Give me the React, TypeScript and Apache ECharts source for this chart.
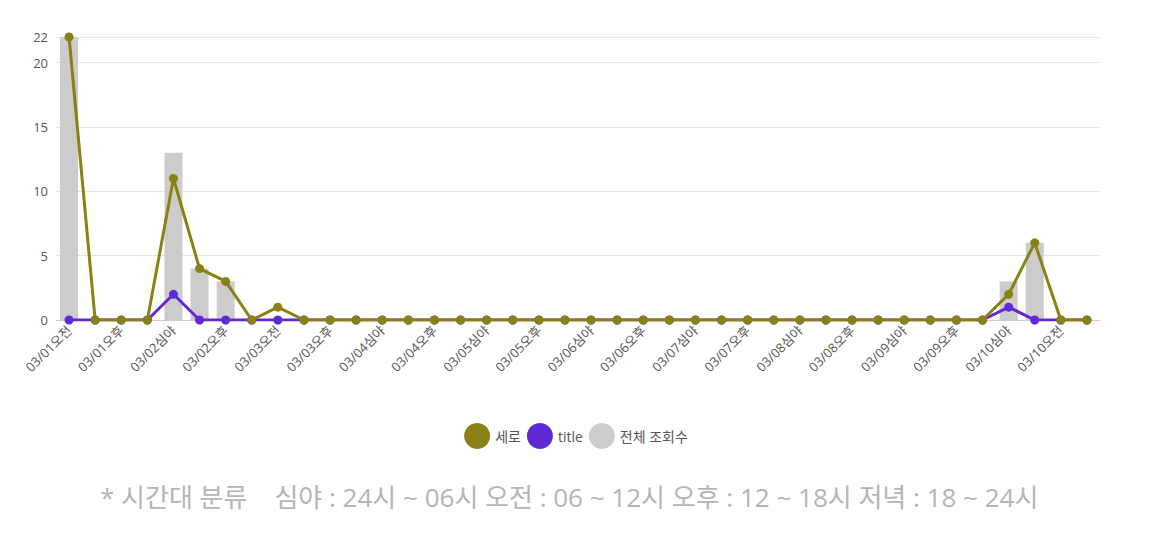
import React, { useEffect, useRef } from "react";
import * as echarts from "echarts";

const categories: string[] = [
	"03/01오전", "03/01저녁", "03/01오후", "03/01저녁",
	"03/02심야", "03/02오전", "03/02오후", "03/02저녁",
	"03/03오전", "03/03저녁", "03/03오후", "03/03저녁",
	"03/04심야", "03/04오전", "03/04오후", "03/04저녁",
	"03/05심야", "03/05오전", "03/05오후", "03/05저녁",
	"03/06심야", "03/06오전", "03/06오후", "03/06저녁",
	"03/07심야", "03/07오전", "03/07오후", "03/07저녁",
	"03/08심야", "03/08오전", "03/08오후", "03/08저녁",
	"03/09심야", "03/09오전", "03/09오후", "03/09저녁",
	"03/10심야", "03/10새벽", "03/10오전", "03/10오후",
];

const seroValues: number[] = [
	22, 0, 0, 0, 11, 4, 3, 0, 1, 0, 0, 0, 0, 0, 0, 0, 0, 0, 0, 0,
	0, 0, 0, 0, 0, 0, 0, 0, 0, 0, 0, 0, 0, 0, 0, 0, 2, 6, 0, 0,
];

const titleValues: number[] = [
	0, 0, 0, 0, 2, 0, 0, 0, 0, 0, 0, 0, 0, 0, 0, 0, 0, 0, 0, 0,
	0, 0, 0, 0, 0, 0, 0, 0, 0, 0, 0, 0, 0, 0, 0, 0, 1, 0, 0, 0,
];

const totalViews: number[] = [
	22, 0, 0, 0, 13, 4, 3, 0, 0, 0, 0, 0, 0, 0, 0, 0, 0, 0, 0, 0,
	0, 0, 0, 0, 0, 0, 0, 0, 0, 0, 0, 0, 0, 0, 0, 0, 3, 6, 0, 0,
];

const noteText = "* 시간대 분류    심야 : 24시 ~ 06시 오전 : 06 ~ 12시 오후 : 12 ~ 18시 저녁 : 18 ~ 24시";

const FONT = "'Open Sans', 'Noto Sans CJK KR', sans-serif";

const App: React.FC = () => {
	const chartRef = useRef<HTMLDivElement>(null);

	useEffect(() => {
		if (!chartRef.current) return;
		const chart = echarts.init(chartRef.current, undefined, { renderer: "svg" });
		chart.setOption({
			animation: false,
			textStyle: { fontFamily: FONT },
			grid: { left: 48, right: 44, top: 29, bottom: 226 },
			legend: {
				bottom: 92,
				left: "center",
				icon: "circle",
				itemWidth: 26,
				itemHeight: 26,
				itemGap: 6,
				textStyle: { fontSize: 14, color: "#555", fontFamily: FONT },
				data: ["세로", "title", "전체 조회수"],
			},
			xAxis: {
				type: "category",
				data: categories,
				axisTick: { show: false },
				axisLine: { lineStyle: { color: "#ccc" } },
				axisLabel: { interval: 1, rotate: 45, color: "#555", fontSize: 13, fontFamily: FONT },
			},
			yAxis: {
				type: "value",
				min: 0,
				max: 22,
				interval: 5,
				axisLabel: { color: "#555", fontSize: 13, showMaxLabel: true, fontFamily: FONT },
				splitLine: { lineStyle: { color: "#e5e5e5" } },
			},
			series: [
				{
					name: "세로",
					type: "line",
					data: seroValues,
					z: 3,
					symbol: "circle",
					symbolSize: 9,
					lineStyle: { width: 3 },
					itemStyle: { color: "#8a8114" },
				},
				{
					name: "title",
					type: "line",
					data: titleValues,
					z: 2,
					symbol: "circle",
					symbolSize: 9,
					lineStyle: { width: 3 },
					itemStyle: { color: "#6128d6" },
				},
				{
					name: "전체 조회수",
					type: "bar",
					data: totalViews,
					barWidth: 18,
					z: 1,
					itemStyle: { color: "#cccccc" },
				},
			],
			graphic: [
				{
					type: "text",
					left: 92,
					top: 476,
					style: {
						text: noteText,
						fill: "#b5b5b5",
						fontSize: 26,
						fontFamily: FONT,
					},
				},
			],
		});
		return () => chart.dispose();
	}, []);

	return <div ref={chartRef} style={{ width: 1136, height: 538 }} />;
};

export default App;
